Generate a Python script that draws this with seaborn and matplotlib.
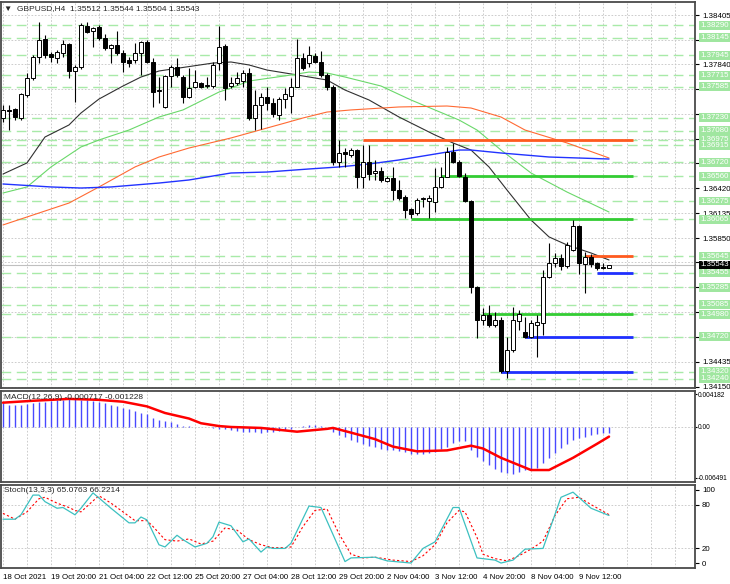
import matplotlib
matplotlib.use("Agg")
import matplotlib.pyplot as plt
import numpy as np
import pandas as pd
import seaborn as sns

# ---- candles (GBPUSD H4, from 18 Oct 2021 12:00) ----
opens = [1.37226, 1.37318, 1.37329, 1.37226, 1.37489, 1.37684, 1.37924, 1.38130, 1.37958, 1.37913,
         1.37970, 1.38073, 1.37764, 1.37810, 1.38279, 1.38222, 1.38268, 1.38142, 1.38027, 1.38062,
         1.37970, 1.37890, 1.37890, 1.37970, 1.38096, 1.37867, 1.37535, 1.37352, 1.37707, 1.37810,
         1.37695, 1.37466, 1.37581, 1.37626, 1.37592, 1.37592, 1.37855, 1.38050, 1.37592, 1.37626,
         1.37649, 1.37741, 1.37226, 1.37375, 1.37466, 1.37397, 1.37260, 1.37443, 1.37478, 1.37581,
         1.37913, 1.37855, 1.37936, 1.37867, 1.37718, 1.37581, 1.36722, 1.36836, 1.36802, 1.36859,
         1.36550, 1.36722, 1.36596, 1.36619, 1.36504, 1.36539, 1.36401, 1.36321, 1.36184, 1.36138,
         1.36298, 1.36275, 1.36264, 1.36436, 1.36550, 1.36836, 1.36722, 1.36550, 1.36275, 1.35291,
         1.34913, 1.34970, 1.34856, 1.34913, 1.34329, 1.34569, 1.34901, 1.34775, 1.34718, 1.34856,
         1.34878, 1.35406, 1.35566, 1.35623, 1.35532, 1.35715, 1.35989, 1.35555, 1.35635, 1.35566,
         1.35521, 1.35512]
highs = [1.37375, 1.37375, 1.37340, 1.37510, 1.37741, 1.37947, 1.38325, 1.38176, 1.37981, 1.38004,
         1.38119, 1.38085, 1.37833, 1.38310, 1.38325, 1.38268, 1.38291, 1.38190, 1.38073, 1.38222,
         1.38004, 1.37924, 1.38085, 1.38105, 1.38119, 1.37913, 1.37695, 1.37720, 1.37833, 1.37913,
         1.37718, 1.37798, 1.37775, 1.37638, 1.37695, 1.37867, 1.38279, 1.38070, 1.37695, 1.37752,
         1.37775, 1.37798, 1.37546, 1.37510, 1.37581, 1.37455, 1.37466, 1.37569, 1.37684, 1.38130,
         1.37970, 1.38050, 1.37970, 1.37993, 1.37741, 1.37600, 1.36974, 1.36882, 1.36882, 1.36870,
         1.36917, 1.36917, 1.36745, 1.36665, 1.36562, 1.36665, 1.36516, 1.36344, 1.36195, 1.36310,
         1.36321, 1.36344, 1.36653, 1.36665, 1.36894, 1.36940, 1.36745, 1.36596, 1.36287, 1.35300,
         1.35050, 1.35085, 1.35005, 1.34947, 1.34718, 1.35062, 1.35028, 1.34947, 1.34913, 1.34970,
         1.35486, 1.35795, 1.35681, 1.35669, 1.35807, 1.36058, 1.35995, 1.35692, 1.35669, 1.35578,
         1.35566, 1.35544]
lows = [1.37180, 1.37088, 1.37203, 1.37203, 1.37466, 1.37661, 1.37855, 1.37913, 1.37867, 1.37855,
        1.37924, 1.37684, 1.37409, 1.37790, 1.38200, 1.38039, 1.38119, 1.38004, 1.37855, 1.37947,
        1.37752, 1.37810, 1.37855, 1.37718, 1.37855, 1.37352, 1.37397, 1.37340, 1.37581, 1.37695,
        1.37397, 1.37455, 1.37569, 1.37569, 1.37569, 1.37569, 1.37775, 1.37432, 1.37569, 1.37604,
        1.37581, 1.37203, 1.37088, 1.37100, 1.37318, 1.37237, 1.37203, 1.37340, 1.37283, 1.37575,
        1.37775, 1.37810, 1.37855, 1.37695, 1.37546, 1.36688, 1.36665, 1.36665, 1.36780, 1.36424,
        1.36424, 1.36516, 1.36516, 1.36493, 1.36493, 1.36287, 1.36287, 1.36081, 1.36081, 1.36115,
        1.36207, 1.36081, 1.36150, 1.36424, 1.36550, 1.36711, 1.36550, 1.36264, 1.35222, 1.34707,
        1.34856, 1.34833, 1.34833, 1.34306, 1.34249, 1.34546, 1.34798, 1.34707, 1.34707, 1.34489,
        1.34741, 1.35395, 1.35521, 1.35486, 1.35509, 1.35704, 1.35440, 1.35222, 1.35521, 1.35486,
        1.35498, 1.35504]
closes = [1.37318, 1.37310, 1.37237, 1.37500, 1.37684, 1.37924, 1.38119, 1.37947, 1.37924, 1.37981,
          1.38073, 1.37764, 1.37810, 1.38291, 1.38210, 1.38256, 1.38142, 1.38027, 1.38062, 1.37970,
          1.37867, 1.37855, 1.37970, 1.38096, 1.37867, 1.37523, 1.37546, 1.37707, 1.37810, 1.37718,
          1.37466, 1.37569, 1.37638, 1.37581, 1.37604, 1.37833, 1.38039, 1.37569, 1.37626, 1.37684,
          1.37741, 1.37226, 1.37375, 1.37466, 1.37397, 1.37272, 1.37443, 1.37500, 1.37581, 1.37913,
          1.37798, 1.37947, 1.37867, 1.37718, 1.37581, 1.36722, 1.36825, 1.36813, 1.36859, 1.36550,
          1.36722, 1.36585, 1.36619, 1.36516, 1.36539, 1.36401, 1.36310, 1.36172, 1.36127, 1.36287,
          1.36304, 1.36310, 1.36436, 1.36550, 1.36836, 1.36722, 1.36562, 1.36275, 1.35291, 1.34913,
          1.34970, 1.34856, 1.34913, 1.34329, 1.34569, 1.34913, 1.34982, 1.34718, 1.34878, 1.34890,
          1.35406, 1.35566, 1.35623, 1.35532, 1.35772, 1.35989, 1.35566, 1.35635, 1.35555, 1.35509,
          1.35512, 1.35543]

# ---- moving averages (read at sample bars) ----
ma_black_bars = [0, 4, 7, 11, 13, 16, 20, 23, 26, 35, 38, 41, 44, 48, 52, 54, 57, 61, 66, 72,
                 75, 78, 81, 84, 88, 91, 94, 98, 101]
ma_black = [1.36584, 1.36711, 1.37008, 1.37146, 1.37283, 1.37443, 1.37592, 1.37695, 1.37764, 1.37855,
            1.37867, 1.37833, 1.37775, 1.37730, 1.37684, 1.37661, 1.37546, 1.37432, 1.37237, 1.37031,
            1.36940, 1.36859, 1.36665, 1.36401, 1.36058, 1.35864, 1.35772, 1.35680, 1.35600]
ma_green_bars = [0, 4, 8, 13, 16, 21, 26, 30, 36, 38, 41, 48, 51, 54, 57, 63, 68, 76, 79, 83,
                 88, 94, 101]
ma_green = [1.36367, 1.36436, 1.36665, 1.36894, 1.36974, 1.37088, 1.37237, 1.37318, 1.37523, 1.37569,
            1.37649, 1.37718, 1.37752, 1.37741, 1.37695, 1.37592, 1.37432, 1.37203, 1.37088, 1.36859,
            1.36596, 1.36378, 1.36149]
ma_orange_bars = [0, 5, 11, 16, 22, 26, 31, 38, 44, 47, 50, 54, 58, 66, 74, 78, 83, 87, 94, 101]
ma_orange = [1.36001, 1.36115, 1.36252, 1.36436, 1.36665, 1.36779, 1.36882, 1.36997, 1.37111, 1.37168,
             1.37226, 1.37294, 1.37318, 1.37352, 1.37363, 1.37340, 1.37237, 1.37088, 1.36940, 1.36768]
ma_blue_bars = [0, 8, 13, 18, 26, 31, 38, 44, 51, 56, 61, 66, 72, 76, 78, 83, 91, 101]
ma_blue = [1.36470, 1.36436, 1.36424, 1.36436, 1.36481, 1.36516, 1.36596, 1.36607, 1.36642, 1.36665,
           1.36699, 1.36745, 1.36813, 1.36859, 1.36859, 1.36825, 1.36779, 1.36756]

# ---- levels ----
dashed_levels = [1.38290, 1.38145, 1.37945, 1.37715, 1.37585, 1.37230, 1.37080, 1.36975, 1.36915,
                 1.36720, 1.36560, 1.36275, 1.36065, 1.35645, 1.35455, 1.35285, 1.35085, 1.34980,
                 1.34720, 1.34320, 1.34240]
solid_levels = [1.36975, 1.36560, 1.36065, 1.35645, 1.35455, 1.34980, 1.34720, 1.34320]
solid_start = [60, 73, 68, 97, 99, 80, 87, 83]
solid_end = 105
price_grid = [1.34150, 1.34435, 1.34720, 1.35005, 1.35290, 1.35575, 1.35850, 1.36135, 1.36420,
              1.36705, 1.36990, 1.37275, 1.37555, 1.37840, 1.38120, 1.38405]
price_labels = [1.34150, 1.34435, 1.35850, 1.36135, 1.36420, 1.37840, 1.38405]
last_price = 1.35543

# ---- MACD(12,26,9) ----
macd_hist = [0.00311, 0.00287, 0.00275, 0.00287, 0.00299, 0.00311, 0.00323, 0.00323, 0.00335, 0.00347,
             0.00347, 0.00359, 0.00359, 0.00347, 0.00347, 0.00335, 0.00323, 0.00311, 0.00287, 0.00263,
             0.00239, 0.00227, 0.00203, 0.00179, 0.00167, 0.00120, 0.00084, 0.00072, 0.00060, 0.00036,
             0.00012, 0.00012, 0.00003, 0.00000, -0.00003, -0.00010, -0.00020, -0.00030, -0.00040, -0.00050,
             -0.00060, -0.00065, -0.00070, -0.00072, -0.00070, -0.00065, -0.00055, -0.00040, -0.00020, 0.00000,
             0.00010, 0.00020, 0.00024, 0.00015, 0.00000, -0.00060, -0.00100, -0.00131, -0.00160, -0.00190,
             -0.00215, -0.00240, -0.00260, -0.00275, -0.00290, -0.00300, -0.00310, -0.00325, -0.00340, -0.00347,
             -0.00345, -0.00335, -0.00315, -0.00285, -0.00250, -0.00210, -0.00185, -0.00179, -0.00290, -0.00380,
             -0.00430, -0.00490, -0.00540, -0.00574, -0.00590, -0.00598, -0.00574, -0.00550, -0.00538, -0.00520,
             -0.00460, -0.00394, -0.00330, -0.00270, -0.00215, -0.00160, -0.00140, -0.00125, -0.00105, -0.00090,
             -0.00080, -0.00072]
macd_sig_bars = [0, 5, 11, 16, 20, 24, 27, 31, 33, 36, 38, 43, 49, 54, 55, 58, 62, 65, 69, 74,
                 78, 80, 83, 88, 91, 95, 99, 101]
macd_sig = [0.00311, 0.00335, 0.00359, 0.00347, 0.00323, 0.00263, 0.00179, 0.00108, 0.00048, 0.00012,
            0.0, -0.00012, -0.00060, -0.00024, -0.00012, -0.00072, -0.00155, -0.00251, -0.00311, -0.00299,
            -0.00239, -0.00275, -0.00394, -0.00550, -0.00550, -0.00394, -0.00215, -0.00123]
macd_ticks = [0.004182, 0.0, -0.006491]
macd_tick_labels = ["0.004182", "0.00", "-0.006491"]

# ---- Stochastic(13,3,3) ----
stoch_bars = [0, 2, 3, 5, 6, 7, 9, 10, 12, 13, 15, 16, 18, 21, 22, 23, 24, 26, 27, 29,
              30, 32, 34, 35, 36, 38, 40, 41, 43, 44, 45, 47, 48, 51, 53, 57, 58, 62, 64, 68,
              70, 72, 75, 76, 79, 82, 83, 85, 87, 90, 93, 95, 98, 101]
stoch_main = [60, 60, 66, 93, 93, 84, 75, 76, 66, 75, 96, 89, 75, 55, 55, 63, 59, 25, 22, 38,
              32, 22, 27, 36, 56, 51, 29, 33, 15, 22, 20, 20, 27, 78, 76, 2, 7, 8, 3, 0,
              20, 29, 76, 76, 7, 4, 0, 4, 19, 20, 90, 97, 75, 65.08]
stoch_sig_bars = [0, 2, 4, 6, 7, 9, 11, 12, 13, 15, 16, 18, 20, 22, 24, 25, 27, 29, 31, 33,
                  35, 37, 39, 41, 43, 45, 47, 48, 50, 52, 54, 56, 58, 60, 62, 65, 68, 70, 72, 74,
                  76, 77, 79, 80, 82, 84, 86, 88, 90, 92, 94, 96, 98, 101]
stoch_sig = [68, 60, 70, 88, 90, 82, 76, 72, 70, 85, 92, 82, 70, 58, 58, 50, 32, 30, 33, 26,
             30, 48, 45, 32, 25, 21, 21, 22, 50, 72, 74, 40, 12, 7, 8, 4, 2, 10, 25, 55,
             72, 70, 35, 12, 6, 3, 10, 19, 30, 65, 88, 90, 80, 66.22]

time_label_bars = [0, 8, 16, 24, 32, 40, 48, 56, 64, 72, 80, 88, 96]
time_labels = ["18 Oct 2021", "19 Oct 20:00", "21 Oct 04:00", "22 Oct 12:00", "25 Oct 20:00",
               "27 Oct 04:00", "28 Oct 12:00", "29 Oct 20:00", "2 Nov 04:00", "3 Nov 12:00",
               "4 Nov 20:00", "8 Nov 04:00", "9 Nov 12:00"]

# ---- style ----
sns.set_style("white")
plt.rcParams["font.family"] = ["Liberation Sans", "DejaVu Sans"]
FS = 5.7
GRID = "#c4c4c4"
LEVEL_GREEN = "#a8eaa8"
solid_colors = ["#ff5a1f", "#33cc33", "#33cc33", "#ff5a1f", "#1f2fff", "#33cc33", "#1f2fff", "#1f2fff"]

fig = plt.figure(figsize=(7.3, 5.84), dpi=100)
W = 694 / 730
L = 1 / 730
ax1 = fig.add_axes([L, 1 - 388 / 584, W, 386 / 584])
ax2 = fig.add_axes([L, 1 - 482 / 584, W, 91 / 584])
ax3 = fig.add_axes([L, 1 - 568 / 584, W, 83 / 584])

XMIN, XMAX = -0.33, 115.33
grid_bars = np.arange(0, 116, 4)
for ax in (ax1, ax2, ax3):
    ax.set_xlim(XMIN, XMAX)
    for s in ax.spines.values():
        s.set_color("#4a4a4a")
        s.set_linewidth(1.3)
    for gb in grid_bars:
        ax.axvline(gb, color=GRID, lw=0.6, ls=(0, (2, 2)), zorder=0)
    ax.yaxis.tick_right()
    ax.tick_params(axis="y", labelsize=FS, length=3, pad=2, colors="black")

# ---- main panel ----
ax1.set_ylim(1.34134, 1.38554)
for p in price_grid:
    ax1.axhline(p, color=GRID, lw=0.6, ls=(0, (2, 2)), zorder=0)
for p in dashed_levels:
    ax1.axhline(p, color=LEVEL_GREEN, lw=1.0, ls=(0, (7, 4)), zorder=0.5)
ax1.axhline(last_price, color="#c0c0c0", lw=0.8, zorder=0.6)

ma_frames = [(ma_black_bars, ma_black, "#303030", 0.8),
             (ma_green_bars, ma_green, "#6ad86a", 0.8),
             (ma_orange_bars, ma_orange, "#ff6a33", 0.8),
             (ma_blue_bars, ma_blue, "#2233ff", 1.0)]
for bx, vals, col, lw in ma_frames:
    sns.lineplot(x=bx, y=vals, ax=ax1, color=col, lw=lw, legend=False, zorder=2)

for p, st, col in zip(solid_levels, solid_start, solid_colors):
    ax1.hlines(p, st, solid_end, color=col, lw=2.0, zorder=3)

bars = np.arange(len(opens))
o = np.array(opens); c = np.array(closes)
ax1.vlines(bars, lows, highs, color="black", lw=0.8, zorder=4)
up = c >= o
ax1.bar(bars[up], np.maximum(c[up] - o[up], 0.00003), bottom=o[up], width=0.62,
        color="white", edgecolor="black", linewidth=0.7, zorder=5)
ax1.bar(bars[~up], o[~up] - c[~up], bottom=c[~up], width=0.62,
        color="black", edgecolor="black", linewidth=0.7, zorder=5)

ax1.set_yticks(price_grid)
ax1.set_yticklabels([f"{p:.5f}" if p in price_labels else "" for p in price_grid])
ax1.set_xticks([])
ytr = ax1.get_yaxis_transform()
for p in dashed_levels:
    ax1.text(1.0075, p, f"{p:.5f}", transform=ytr, fontsize=FS, color="white", va="center",
             ha="left", zorder=10, clip_on=False,
             bbox=dict(boxstyle="square,pad=0.12", fc="#a0e6a0", ec="none"))
ax1.text(1.0075, last_price, f"{last_price:.5f}", transform=ytr, fontsize=FS, color="white",
         va="center", ha="left", zorder=11, clip_on=False,
         bbox=dict(boxstyle="square,pad=0.12", fc="black", ec="none"))
ax1.text(0.005, 0.992, "\u25BC  GBPUSD,H4  1.35512 1.35544 1.35504 1.35543", transform=ax1.transAxes,
         fontsize=FS + 0.3, va="top", ha="left", zorder=12)

# ---- MACD panel ----
ax2.set_ylim(-0.00703, 0.00460)
ax2.axhline(0, color=GRID, lw=0.6, ls=(0, (2, 2)), zorder=0)
ax2.vlines(np.arange(len(macd_hist)), 0, macd_hist, color="#4848ff", lw=1.0, zorder=2)
sns.lineplot(x=macd_sig_bars, y=macd_sig, ax=ax2, color="red", lw=1.8, legend=False, zorder=3)
ax2.set_yticks(macd_ticks)
ax2.set_yticklabels(macd_tick_labels)
ax2.tick_params(axis="y", labelsize=4.8, length=1.5, pad=0.6)
ax2.set_xticks([])
ax2.text(0.005, 0.97, "MACD(12,26,9) -0.000717 -0.001228", transform=ax2.transAxes,
         fontsize=FS + 0.3, va="top", ha="left", zorder=12)

# ---- Stochastic panel ----
ax3.set_ylim(-6.8, 106.8)
for lv in (80, 20):
    ax3.axhline(lv, color=GRID, lw=0.6, ls=(0, (2, 2)), zorder=0)
sns.lineplot(x=stoch_bars, y=stoch_main, ax=ax3, color="#3cc0c0", lw=0.9, legend=False, zorder=3)
sns.lineplot(x=stoch_sig_bars, y=stoch_sig, ax=ax3, color="red", lw=0.8, legend=False, zorder=2)
ax3.lines[-1].set_linestyle((0, (2, 2)))
ax3.set_yticks([100, 80, 20, 0])
ax3.set_yticklabels(["100", "80", "20", "0"])
ax3.set_xticks(time_label_bars)
ax3.set_xticklabels(time_labels, ha="left")
ax3.tick_params(axis="x", labelsize=FS, length=3, pad=1.5, colors="black")
ax3.text(0.005, 0.97, "Stoch(13,3,3) 65.0763 66.2214", transform=ax3.transAxes,
         fontsize=FS + 0.3, va="top", ha="left", zorder=12)

for ax in (ax1, ax2, ax3):
    ax.set_xlabel("")
    ax.set_ylabel("")

fig.savefig("out.png", dpi=100, facecolor="white")
